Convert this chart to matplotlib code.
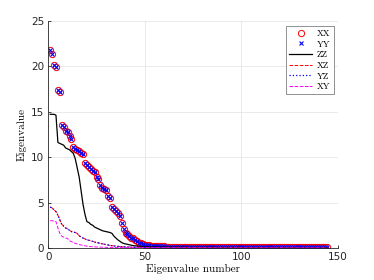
import numpy as np
import matplotlib.pyplot as plt

# eigenvalues (index 1..144)
xx = [21.8, 21.3, 20.1, 19.9, 17.4, 17.2,
      13.5, 13.3, 12.9, 12.7, 12.3, 12.0,
      11.1, 10.9, 10.8, 10.7, 10.5, 10.3,
      9.3, 9.1, 8.9, 8.7, 8.5, 8.4,
      7.8, 7.6, 6.9, 6.6, 6.5, 6.4,
      5.7, 5.5, 4.5, 4.3, 4.1, 3.9,
      3.5, 2.8, 2.1, 1.7, 1.5, 1.3,
      1.15, 1.05, 0.9, 0.8, 0.6, 0.5,
      0.42, 0.36, 0.32, 0.29, 0.26, 0.24,
      0.22, 0.21, 0.2, 0.19, 0.18, 0.17,
      0.16, 0.16, 0.15, 0.15, 0.15, 0.14, 0.14, 0.14, 0.14, 0.13, 0.13, 0.13,
      0.13, 0.13, 0.12, 0.12, 0.12, 0.12, 0.12, 0.12, 0.11, 0.11, 0.11, 0.11,
      0.11, 0.11, 0.11, 0.11, 0.10, 0.10, 0.10, 0.10, 0.10, 0.10, 0.10, 0.10,
      0.10, 0.10, 0.10, 0.09, 0.09, 0.09, 0.09, 0.09, 0.09, 0.09, 0.09, 0.09,
      0.09, 0.09, 0.09, 0.09, 0.09, 0.09, 0.08, 0.08, 0.08, 0.08, 0.08, 0.08,
      0.08, 0.08, 0.08, 0.08, 0.08, 0.08, 0.08, 0.08, 0.08, 0.08, 0.08, 0.08,
      0.08, 0.08, 0.08, 0.08, 0.08, 0.08, 0.07, 0.07, 0.07, 0.07, 0.07, 0.07]
yy = list(xx)

zz = [14.7, 14.7, 14.7, 14.6, 11.6, 11.5,
      11.4, 11.3, 11.0, 10.9, 10.8, 10.6,
      10.4, 9.8, 8.8, 7.8, 6.3, 4.8,
      3.7, 2.9, 2.8, 2.6, 2.5, 2.3,
      2.2, 2.1, 2.0, 1.9, 1.85, 1.8,
      1.75, 1.7, 1.6, 1.3, 1.1, 0.9,
      0.75, 0.6, 0.5, 0.45, 0.4, 0.35,
      0.3, 0.26, 0.23, 0.21, 0.19, 0.17,
      0.16, 0.15, 0.14, 0.13, 0.13, 0.12,
      0.12, 0.11, 0.11, 0.11, 0.10, 0.10,
      0.10, 0.10, 0.10, 0.09, 0.09, 0.09, 0.09, 0.09, 0.09, 0.08, 0.08, 0.08,
      0.08, 0.08, 0.08, 0.08, 0.07, 0.07, 0.07, 0.07, 0.07, 0.07, 0.07, 0.07,
      0.06, 0.06, 0.06, 0.06, 0.06, 0.06, 0.06, 0.06, 0.06, 0.06, 0.06, 0.06,
      0.05, 0.05, 0.05, 0.05, 0.05, 0.05, 0.05, 0.05, 0.05, 0.05, 0.05, 0.05,
      0.05, 0.05, 0.05, 0.05, 0.05, 0.05, 0.04, 0.04, 0.04, 0.04, 0.04, 0.04,
      0.04, 0.04, 0.04, 0.04, 0.04, 0.04, 0.04, 0.04, 0.04, 0.04, 0.04, 0.04,
      0.04, 0.04, 0.04, 0.04, 0.04, 0.04, 0.04, 0.04, 0.04, 0.04, 0.04, 0.04]

yz = [4.5, 4.4, 4.2, 4.0, 3.6, 3.1,
      2.6, 2.4, 2.2, 2.1, 1.95, 1.8,
      1.75, 1.7, 1.6, 1.35, 1.2, 1.1,
      1.0, 0.9, 0.85, 0.8, 0.72, 0.65,
      0.6, 0.55, 0.5, 0.46, 0.42, 0.38,
      0.33, 0.28, 0.25, 0.22, 0.2, 0.18,
      0.16, 0.14, 0.13, 0.12, 0.11, 0.10,
      0.09, 0.09, 0.08, 0.08, 0.07, 0.07,
      0.07, 0.06, 0.06, 0.06, 0.06, 0.05,
      0.05, 0.05, 0.05, 0.05, 0.04, 0.04,
      0.04, 0.04, 0.04, 0.04, 0.04, 0.04, 0.03, 0.03, 0.03, 0.03, 0.03, 0.03,
      0.03, 0.03, 0.03, 0.03, 0.03, 0.03, 0.03, 0.03, 0.03, 0.03, 0.03, 0.03,
      0.02, 0.02, 0.02, 0.02, 0.02, 0.02, 0.02, 0.02, 0.02, 0.02, 0.02, 0.02,
      0.02, 0.02, 0.02, 0.02, 0.02, 0.02, 0.02, 0.02, 0.02, 0.02, 0.02, 0.02,
      0.02, 0.02, 0.02, 0.02, 0.02, 0.02, 0.02, 0.02, 0.02, 0.02, 0.02, 0.02,
      0.01, 0.01, 0.01, 0.01, 0.01, 0.01, 0.01, 0.01, 0.01, 0.01, 0.01, 0.01,
      0.01, 0.01, 0.01, 0.01, 0.01, 0.01, 0.01, 0.01, 0.01, 0.01, 0.01, 0.01]
xz = list(yz)

xy = [3.0, 3.0, 2.95, 2.9, 2.2, 1.6,
      1.3, 1.2, 1.1, 1.05, 0.8, 0.7,
      0.6, 0.5, 0.45, 0.38, 0.33, 0.28,
      0.24, 0.2, 0.17, 0.15, 0.13, 0.12,
      0.11, 0.10, 0.09, 0.08, 0.08, 0.07,
      0.07, 0.06, 0.06, 0.06, 0.05, 0.05,
      0.05, 0.05, 0.04, 0.04, 0.04, 0.04,
      0.04, 0.04, 0.03, 0.03, 0.03, 0.03,
      0.03, 0.03, 0.03, 0.03, 0.03, 0.03,
      0.02, 0.02, 0.02, 0.02, 0.02, 0.02,
      0.02, 0.02, 0.02, 0.02, 0.02, 0.02, 0.02, 0.02, 0.02, 0.02, 0.02, 0.02,
      0.02, 0.02, 0.02, 0.02, 0.02, 0.02, 0.02, 0.02, 0.02, 0.02, 0.02, 0.02,
      0.01, 0.01, 0.01, 0.01, 0.01, 0.01, 0.01, 0.01, 0.01, 0.01, 0.01, 0.01,
      0.01, 0.01, 0.01, 0.01, 0.01, 0.01, 0.01, 0.01, 0.01, 0.01, 0.01, 0.01,
      0.01, 0.01, 0.01, 0.01, 0.01, 0.01, 0.01, 0.01, 0.01, 0.01, 0.01, 0.01,
      0.01, 0.01, 0.01, 0.01, 0.01, 0.01, 0.01, 0.01, 0.01, 0.01, 0.01, 0.01,
      0.01, 0.01, 0.01, 0.01, 0.01, 0.01, 0.01, 0.01, 0.01, 0.01, 0.01, 0.01]

n = np.arange(1, len(xx) + 1)
serif = 'cmr10'

fig = plt.figure(figsize=(3.74, 2.80), dpi=100)
ax = fig.add_axes([0.129, 0.1143, 0.775, 0.812])

ax.plot(n, xx, 'o', mfc='none', mec='#ff0000', ms=4.5, mew=0.7, label='XX')
ax.plot(n, yy, 'x', color='#0000ff', ms=2.8, mew=0.8, label='YY')
ax.plot(n, zz, '-', color='k', lw=0.9, label='ZZ')
ax.plot(n, xz, '--', color='#ff0000', lw=0.7, label='XZ')
ax.plot(n, yz, ':', color='#0000ff', lw=0.9, label='YZ')
ax.plot(n, xy, '--', color='#ff00ff', lw=0.7, label='XY')

ax.set_xlim(0, 150)
ax.set_ylim(0, 25)
ax.set_xticks([0, 50, 100, 150])
ax.set_yticks([0, 5, 10, 15, 20, 25])
ax.grid(True, color='#e6e6e6', lw=0.6)
ax.set_axisbelow(True)
for s in ['top', 'right']:
    ax.spines[s].set_visible(False)
for s in ['left', 'bottom']:
    ax.spines[s].set_color('#262626')
    ax.spines[s].set_linewidth(0.6)
ax.tick_params(direction='in', length=2.5, width=0.6, labelsize=7.5,
               colors='#262626', pad=3)

ax.set_xlabel('Eigenvalue number', fontfamily=serif, fontsize=8, labelpad=1)
ax.set_ylabel('Eigenvalue', fontfamily=serif, fontsize=8, labelpad=3)

leg = ax.legend(loc='upper right', bbox_to_anchor=(1.0, 0.995),
                prop={'family': serif, 'size': 6.5}, fancybox=False,
                edgecolor='#808080', framealpha=1, handlelength=2.6,
                handletextpad=0.5, labelspacing=0.25, borderpad=0.35)
leg.get_frame().set_linewidth(0.6)

fig.savefig('out.png', dpi=100)
